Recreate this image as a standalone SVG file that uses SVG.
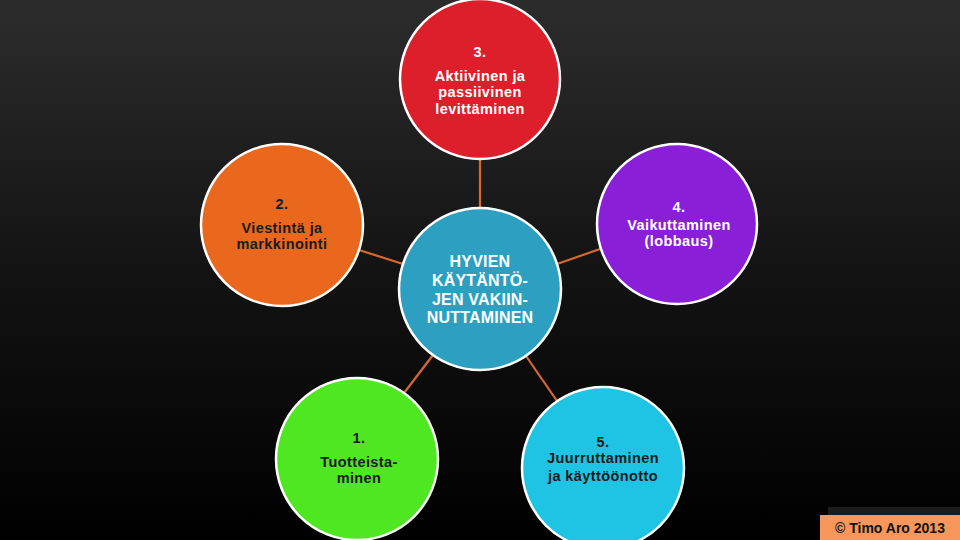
<svg xmlns="http://www.w3.org/2000/svg" width="960" height="540" viewBox="0 0 960 540">
  <defs>
    <linearGradient id="bg" x1="0" y1="0" x2="0" y2="1">
      <stop offset="0" stop-color="#2c2c2c"/>
      <stop offset="0.55" stop-color="#111111"/>
      <stop offset="1" stop-color="#000000"/>
    </linearGradient>
  </defs>
  <style>
    .node { stroke: #ffffff; stroke-width: 2.5; }
    .conn { stroke: #d8692e; stroke-width: 2.2; fill: none; }
    .t { font-family: "Liberation Sans", Arial, sans-serif; font-weight: bold; font-size: 14.5px; text-anchor: middle; letter-spacing: 0.4px; }
    .w { fill: #ffffff; }
    .d { fill: #1a1a1a; }
  </style>
  <rect x="0" y="0" width="960" height="540" fill="url(#bg)"/>

  <g id="connectors">
    <line class="conn" x1="480" y1="159" x2="480" y2="208"/>
    <line class="conn" x1="359" y1="250" x2="403" y2="264"/>
    <line class="conn" x1="600" y1="249" x2="557" y2="264"/>
    <line class="conn" x1="404" y1="393" x2="433" y2="355"/>
    <line class="conn" x1="557" y1="401" x2="526" y2="356"/>
  </g>

  <g id="node-center">
    <circle class="node" cx="480" cy="289" r="81" fill="#2d9fc1"/>
    <text class="t w" x="480" y="267" style="font-size:16px;letter-spacing:0.2px">HYVIEN</text>
    <text class="t w" x="480" y="286" style="font-size:16px;letter-spacing:0.2px">KÄYTÄNTÖ-</text>
    <text class="t w" x="480" y="305" style="font-size:16px;letter-spacing:0.2px">JEN VAKIIN-</text>
    <text class="t w" x="480" y="323" style="font-size:16px;letter-spacing:0.2px">NUTTAMINEN</text>
  </g>

  <g id="node-3">
    <circle class="node" cx="480" cy="79" r="80" fill="#dc1f2b"/>
    <text class="t w" x="480" y="57">3.</text>
    <text class="t w" x="480" y="81">Aktiivinen ja</text>
    <text class="t w" x="480" y="97">passiivinen</text>
    <text class="t w" x="480" y="114">levittäminen</text>
  </g>

  <g id="node-2">
    <circle class="node" cx="282" cy="225" r="81" fill="#ea671e"/>
    <text class="t d" x="282" y="209">2.</text>
    <text class="t d" x="282" y="233">Viestintä ja</text>
    <text class="t d" x="282" y="249">markkinointi</text>
  </g>

  <g id="node-4">
    <circle class="node" cx="677" cy="224" r="80" fill="#8a1fd8"/>
    <text class="t w" x="679" y="212">4.</text>
    <text class="t w" x="679" y="230">Vaikuttaminen</text>
    <text class="t w" x="679" y="246">(lobbaus)</text>
  </g>

  <g id="node-1">
    <circle class="node" cx="357" cy="459" r="81" fill="#4fe622"/>
    <text class="t d" x="359" y="443">1.</text>
    <text class="t d" x="359" y="467">Tuotteista-</text>
    <text class="t d" x="359" y="483">minen</text>
  </g>

  <g id="node-5">
    <circle class="node" cx="603" cy="468" r="81" fill="#1fc3e3"/>
    <text class="t d" x="603" y="447">5.</text>
    <text class="t d" x="603" y="463">Juurruttaminen</text>
    <text class="t d" x="603" y="481">ja käyttöönotto</text>
  </g>

  <g id="copyright">
    <rect x="828" y="507" width="132" height="9" fill="#1c1c1c"/>
    <rect x="820" y="515" width="140" height="25" fill="#f7975c"/>
    <text x="890" y="533" font-family="'Liberation Sans', Arial, sans-serif" font-weight="bold" font-size="14" fill="#111111" text-anchor="middle">© Timo Aro 2013</text>
  </g>
</svg>
